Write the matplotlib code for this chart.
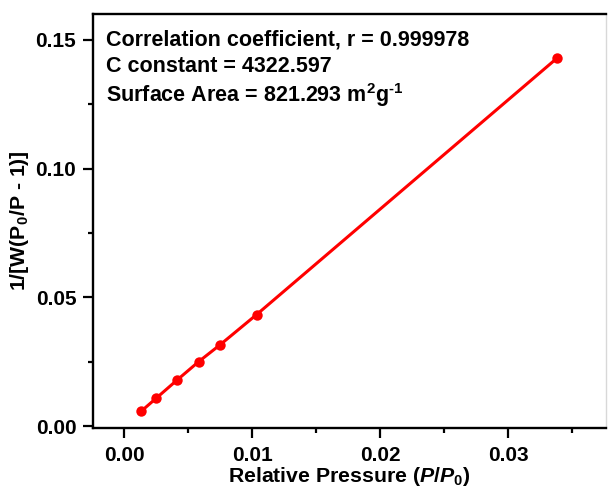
import matplotlib
matplotlib.use("Agg")
import matplotlib.pyplot as plt
from matplotlib.ticker import MultipleLocator

# Data
rel_pressure = [0.00130, 0.00250, 0.00409, 0.00581, 0.00750, 0.01034, 0.03383]
bet_value = [0.00583, 0.01100, 0.01787, 0.02514, 0.03174, 0.04340, 0.14290]

x_ticks = [0.00, 0.01, 0.02, 0.03]
x_tick_labels = ["0.00", "0.01", "0.02", "0.03"]
y_ticks = [0.00, 0.05, 0.10, 0.15]
y_tick_labels = ["0.00", "0.05", "0.10", "0.15"]

annotations = [
    "Correlation coefficient, r = 0.999978",
    "C constant = 4322.597",
    r"Surface Area = 821.293 m$^{2}$g$^{\text{-1}}$",
]

plt.rcParams['font.family'] = ['Liberation Sans', 'DejaVu Sans']
plt.rcParams['font.weight'] = 'bold'
plt.rcParams['mathtext.fontset'] = 'custom'
plt.rcParams['mathtext.rm'] = 'Liberation Sans:bold'
plt.rcParams['mathtext.it'] = 'Liberation Sans:italic:bold'
plt.rcParams['mathtext.bf'] = 'Liberation Sans:bold'
plt.rcParams['mathtext.sf'] = 'Liberation Sans:bold'
plt.rcParams['mathtext.default'] = 'rm'

fig = plt.figure(figsize=(6.08, 4.93), dpi=100)
ax = fig.add_axes([93/608, 65/493, 513/608, 414/493])

ax.plot(rel_pressure, bet_value, color='#ff0000', lw=2.2, marker='o',
        markersize=7.5, markeredgewidth=0, zorder=3)

ax.set_xlim(-0.00245, 0.03763)
ax.set_ylim(-0.0006, 0.1599)
ax.set_xticks(x_ticks)
ax.set_xticklabels(x_tick_labels)
ax.set_yticks(y_ticks)
ax.set_yticklabels(y_tick_labels)
ax.xaxis.set_minor_locator(MultipleLocator(0.005))
ax.yaxis.set_minor_locator(MultipleLocator(0.025))

ax.tick_params(axis='both', which='major', direction='out', length=7, width=1.6,
               labelsize=15)
ax.tick_params(axis='x', which='major', pad=6)
ax.tick_params(axis='y', which='major', pad=5)
ax.tick_params(axis='both', which='minor', direction='out', length=3.5, width=1.6)
ax.tick_params(top=False, right=False, which='both')

for side in ['left', 'bottom', 'top']:
    ax.spines[side].set_linewidth(1.7)
    ax.spines[side].set_color('black')
ax.spines['right'].set_linewidth(1.0)
ax.spines['right'].set_color('#d8d8d8')

for lab in ax.get_xticklabels() + ax.get_yticklabels():
    lab.set_fontweight('bold')

ax.set_xlabel(r"Relative Pressure ($\mathit{P/P_0}$)", fontsize=15.3, fontweight='bold', labelpad=0)
ax.set_ylabel(r"1/[W(P$_0$/P - 1)]", fontsize=15.3, fontweight='bold', labelpad=3)

ys = [0.937, 0.872, 0.804]
for txt, yy in zip(annotations, ys):
    ax.text(0.025, yy, txt, transform=ax.transAxes, fontsize=15.5,
            fontweight='bold', va='center', ha='left')

fig.savefig("out.png", dpi=100)
